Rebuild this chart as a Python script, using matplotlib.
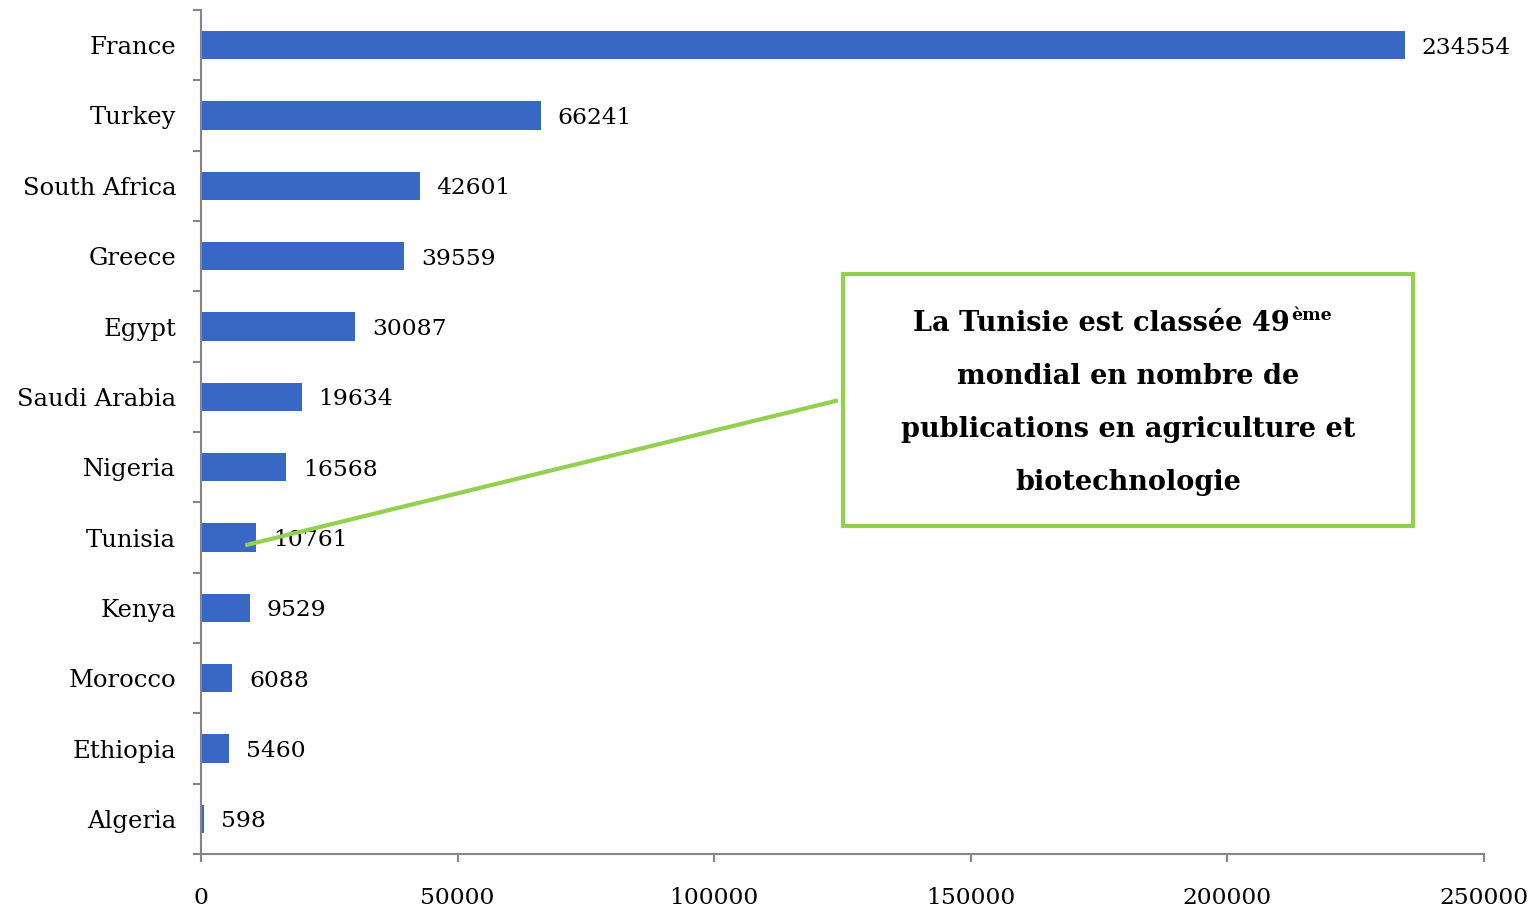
import matplotlib.pyplot as plt
from matplotlib.patches import Rectangle
import numpy as np

plt.rcParams['font.family'] = 'DejaVu Serif'

# Publications par pays
countries = ['France', 'Turkey', 'South Africa', 'Greece', 'Egypt', 'Saudi Arabia',
             'Nigeria', 'Tunisia', 'Kenya', 'Morocco', 'Ethiopia', 'Algeria']
publications = [234554, 66241, 42601, 39559, 30087, 19634,
                16568, 10761, 9529, 6088, 5460, 598]
x_ticks = [0, 50000, 100000, 150000, 200000, 250000]

bar_color = '#3867C5'
axis_color = '#858585'
green = '#92D050'

fig = plt.figure(figsize=(15.35, 9.09), dpi=100)
ax = fig.add_axes([0.131, 0.0605, 0.8358, 0.9285])

y = np.arange(len(countries))
ax.barh(y, publications, height=0.4, color=bar_color)

# Étiquettes de valeurs
for yi, v in zip(y, publications):
    ax.annotate(str(v), xy=(v, yi), xytext=(12, 0), textcoords='offset points',
                va='center_baseline', ha='left', fontsize=16.8)

ax.set_xlim(0, 250000)
ax.set_ylim(len(countries) - 0.5, -0.5)
ax.set_xticks(x_ticks)
ax.set_xticklabels([str(t) for t in x_ticks], fontsize=16.8)
ax.set_yticks(y)
ax.set_yticklabels(countries, fontsize=17.5)
ax.set_yticks(np.arange(len(countries) + 1) - 0.5, minor=True)

ax.tick_params(axis='y', which='major', length=0, pad=18)
ax.tick_params(axis='y', which='minor', length=6, width=1.5, color=axis_color)
ax.tick_params(axis='x', length=6, width=1.5, color=axis_color, pad=18)

for s in ['top', 'right']:
    ax.spines[s].set_visible(False)
for s in ['left', 'bottom']:
    ax.spines[s].set_color(axis_color)
    ax.spines[s].set_linewidth(1.5)

# Encadré d'annotation
ax.add_patch(Rectangle((125100, 3.25), 111070, 3.59, fill=False,
                       edgecolor=green, linewidth=3, zorder=4))
ax.plot([8600, 124100], [7.11, 5.05], color=green, linewidth=3, zorder=4,
        solid_capstyle='butt')

cx = 180630
t1 = ax.text(cx - 5200, 3.96, 'La Tunisie est classée 49', ha='center', va='center',
             fontsize=19.5, fontweight='bold')
ax.annotate('ème', xy=(1, 1), xycoords=t1, xytext=(1, 2), textcoords='offset points',
            ha='left', va='top', fontsize=12.5, fontweight='bold')
lines = ['mondial en nombre de', 'publications en agriculture et', 'biotechnologie']
for i, line in enumerate(lines):
    ax.text(cx, 4.71 + i * 0.755, line, ha='center', va='center',
            fontsize=19.5, fontweight='bold')

fig.savefig('out.png', dpi=100)
